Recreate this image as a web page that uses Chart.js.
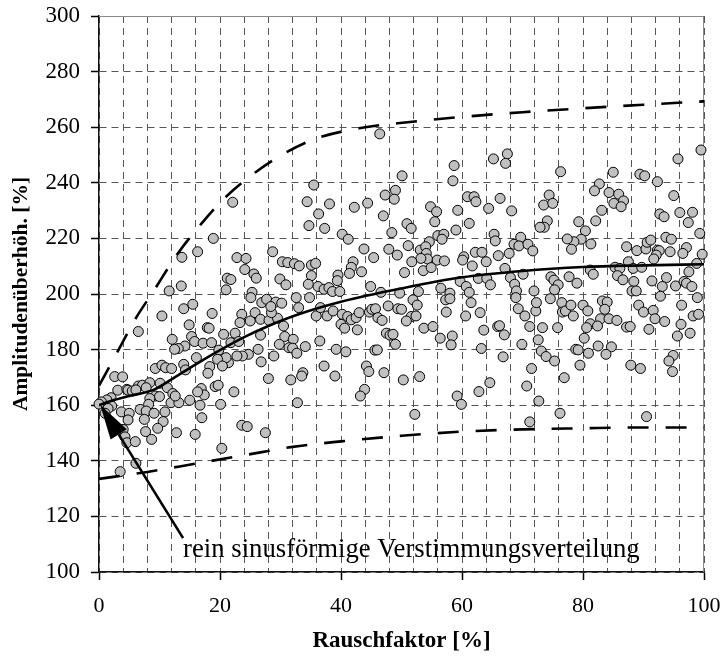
<!DOCTYPE html>
<html>
<head>
<meta charset="utf-8">
<script src="https://cdn.jsdelivr.net/npm/chart.js@4.4.0/dist/chart.umd.min.js"></script>
<style>
  html, body { margin: 0; padding: 0; background: #fff; }
</style>
</head>
<body>
<canvas id="chart" width="723" height="658"></canvas>
<script>
// --- data ---
const xTicks = [0, 20, 40, 60, 80, 100];
const yTicks = [100, 120, 140, 160, 180, 200, 220, 240, 260, 280, 300];

// mean curve
const meanX = [0, 2, 5, 9, 12, 16, 20, 24, 28, 33, 40, 50, 60, 70, 80, 90, 100];
const meanY = [160, 161.5, 163.3, 165.5, 169.3, 174.7, 179.8, 184.5, 188.5, 192.7, 197.2, 202, 206, 208.3, 209.7, 210.3, 210.7];

// upper / lower bound curves (dashed)
const upperX = [0, 3, 6, 9, 13, 17, 21, 26, 31, 36, 43, 51, 60, 70, 80, 90, 100];
const upperY = [167, 179, 191, 201, 214.5, 225.5, 235, 244, 251, 256, 259.6, 261.8, 263.7, 265.4, 266.8, 268.1, 269.3];
const lowerX = [0, 8, 16, 24, 32, 40, 50, 60, 70, 80, 90, 100];
const lowerY = [133.5, 136, 139, 142, 145, 147, 149, 150.5, 151.3, 151.7, 152, 152];

// simulated samples [Rauschfaktor, Amplitudenüberhöhung]
const samples = [
  [22.1,233.0],[18.9,220.0],[16.3,215.2],[13.7,213.2],[22.8,213.1],[24.3,212.8],[28.7,215.2],[24.1,208.8],
  [25.6,207.2],[26.0,205.7],[21.2,205.7],[21.8,205.2],[21.0,201.5],[29.9,205.4],[30.9,203.3],[30.3,211.6],
  [31.2,211.3],[32.3,210.9],[33.1,210.1],[13.6,202.9],[11.6,201.1],[25.3,200.6],
  [46.4,257.6],[58.7,246.2],[58.5,240.7],[50.1,242.5],[65.2,248.6],[35.5,239.2],[34.4,233.2],[38.1,232.4],
  [36.3,228.8],[34.7,224.6],[37.3,223.6],[42.2,231.2],[44.4,232.7],[47.3,235.6],[49.0,237.3],[48.8,234.1],
  [47.0,228.1],[50.9,225.3],[51.6,223.6],[48.4,222.1],[40.2,221.5],[41.2,219.7],[54.8,231.4],[55.8,229.6],
  [55.5,226.0],[59.3,230.1],[60.9,235.0],[62.0,235.0],[62.3,233.2],[61.2,225.4],[64.4,230.8],[66.3,234.4],
  [59.0,223.0],[56.0,221.0],[57.0,221.5],[56.7,219.7],[65.3,221.5],[65.5,219.1],[54.6,218.8],[51.1,217.4],
  [43.8,216.2],[45.4,213.1],[47.9,216.1],[49.3,214.0],[53.1,215.8],[54.0,217.0],[54.1,214.6],[54.3,212.6],
  [53.2,212.8],[51.7,211.6],[55.9,212.2],[57.1,211.9],[53.6,208.4],[54.9,209.5],[50.5,207.7],[60.3,213.4],
  [60.1,212.2],[62.2,215.0],[63.3,215.0],[64.0,211.6],[66.0,213.8],[61.7,210.1],[62.7,205.6],[64.1,205.6],
  [64.7,203.3],[59.7,204.5],[60.7,202.7],[61.2,200.6],[56.5,202.1],[58.0,200.3],[42.0,211.6],[41.7,209.6],
  [41.4,207.4],[43.4,208.0],[39.5,206.8],[39.4,204.8],[35.1,210.4],[35.8,211.0],[35.1,206.6],[34.6,203.5],
  [36.2,202.7],[37.2,201.7],[38.0,202.3],[38.6,200.9],[39.8,200.9],[44.9,202.7],[46.6,200.6],[49.7,200.3],
  [52.8,200.9],
  [67.5,250.4],[67.2,247.0],[76.3,244.0],[85.0,243.8],[89.4,243.1],[90.2,242.5],[92.3,240.4],[95.7,248.6],
  [99.5,251.8],[82.7,239.6],[81.9,237.1],[84.3,236.5],[85.9,235.9],[86.7,233.5],[85.1,232.6],[86.3,231.4],
  [74.4,235.6],[73.5,232.0],[75.0,232.6],[68.2,229.9],[83.1,230.1],[82.1,226.3],[79.3,226.0],[74.1,226.3],
  [73.6,224.0],[72.9,224.0],[95.0,235.4],[92.7,228.8],[93.4,227.8],[96.0,229.3],[98.1,229.4],[97.4,225.7],
  [99.3,221.8],[80.4,222.7],[79.7,219.7],[78.5,218.8],[77.4,219.8],[78.1,216.1],[81.3,218.0],[69.7,220.4],
  [68.6,217.9],[69.4,217.3],[70.9,217.9],[71.7,215.5],[67.8,214.6],[67.1,209.2],[70.1,207.1],[68.0,205.9],
  [68.7,203.5],[69.0,201.1],[74.7,206.2],[75.2,205.0],[75.9,203.3],[75.3,201.5],[71.9,201.1],[77.7,206.2],
  [79.0,203.9],[81.2,208.6],[81.7,207.1],[87.2,217.0],[88.9,215.6],[90.4,216.2],[90.6,218.6],[91.2,219.4],
  [93.7,220.4],[94.6,219.7],[92.3,215.8],[92.6,215.6],[92.1,214.0],[91.7,212.6],[94.4,215.2],[97.1,216.7],
  [96.5,214.6],[99.7,214.3],[98.8,211.0],[97.5,208.0],[87.5,211.6],[85.3,209.6],[86.1,209.2],[88.3,209.2],
  [89.7,209.6],[85.7,206.6],[86.6,205.1],[88.4,204.5],[88.1,201.1],[88.8,201.1],[91.4,204.7],[93.8,205.9],
  [93.1,202.7],[95.3,202.9],[96.7,204.5],[97.1,203.9],[98.0,202.7],
  [14.0,194.7],[15.5,196.3],[10.4,192.1],[18.7,193.0],[6.5,186.5],[14.9,188.9],[17.9,187.9],[18.2,187.7],
  [20.6,185.5],[22.5,185.9],[12.1,183.7],[15.3,184.7],[15.8,182.9],[14.2,181.3],[13.1,180.4],[12.5,180.1],
  [17.2,182.3],[18.6,182.5],[21.8,182.5],[23.1,182.9],[23.6,192.7],[23.3,189.7],[25.0,190.3],[25.8,193.3],
  [26.7,190.9],[28.1,190.5],[29.5,191.3],[28.5,193.3],[26.9,196.9],[27.7,198.1],[29.2,197.1],[30.2,196.7],
  [28.4,195.5],[25.1,198.7],[32.6,198.7],[33.0,195.1],[30.5,188.5],[26.7,185.2],[30.7,184.7],[32.1,183.7],
  [29.8,181.9],[31.4,180.7],[32.0,180.5],[32.7,178.7],[26.3,180.1],[24.7,178.3],[23.7,177.7],[22.8,177.7],
  [21.4,175.3],[21.0,177.1],[19.8,179.8],[19.6,176.5],[20.4,174.1],[18.3,173.9],[16.1,177.1],[26.8,175.6],
  [28.9,177.7],[9.3,173.2],[10.4,174.4],[11.0,173.5],[12.0,173.2],[14.0,174.7],[14.3,172.7],[18.0,171.5],
  [2.6,170.3],[3.9,170.2],[6.5,166.9],[7.2,167.2],[8.4,168.1],[10.1,167.9],[3.1,165.4],[4.6,165.7],
  [4.8,165.4],[5.5,165.1],[6.1,165.5],[7.8,166.3],[11.3,166.3],[12.2,164.2],[9.3,163.3],[10.0,163.1],
  [8.4,162.4],[8.2,160.3],[11.9,160.9],[13.2,160.9],[12.6,163.3],[15.0,161.8],[16.9,166.0],[17.4,163.7],
  [16.3,164.8],[19.2,166.7],[19.7,167.2],[22.3,164.8],[16.7,160.0],[20.1,160.3],[17.0,155.5],[28.0,169.6],
  [31.7,169.1],[32.8,160.9],[2.0,162.7],[1.3,161.9],[0.4,161.2],[0.0,160.4],[2.1,159.7],[1.5,158.8],
  [1.0,157.1],[3.7,157.6],[5.0,157.1],[4.8,154.7],[6.8,158.5],[7.8,157.9],[9.1,157.1],[7.5,154.9],
  [10.9,157.6],[10.6,154.1],[9.7,151.7],[7.7,150.5],[8.7,147.7],[12.8,150.1],[15.9,149.5],[4.0,151.3],
  [4.3,148.6],[4.6,146.5],[6.0,146.9],[6.1,139.1],[3.5,136.1],[20.3,144.5],[23.6,152.8],[24.5,152.3],
  [27.5,150.1],
  [34.8,198.7],[35.9,192.1],[36.6,195.1],[37.7,192.1],[38.7,193.9],[40.2,192.7],[41.1,191.9],[41.7,190.7],
  [42.5,191.5],[43.0,193.3],[40.0,189.1],[40.6,187.7],[42.7,187.1],[44.7,193.5],[45.1,194.5],[45.7,194.7],
  [46.1,191.5],[46.8,190.5],[47.8,195.7],[49.4,194.7],[50.0,194.5],[51.9,197.9],[52.6,196.0],[51.6,191.9],
  [50.8,190.3],[52.4,192.1],[47.5,185.9],[48.1,185.2],[48.6,185.5],[49.0,181.9],[45.6,179.8],[46.0,179.9],
  [36.5,183.1],[34.1,181.1],[39.2,180.1],[40.8,179.2],[37.2,174.1],[39.0,170.5],[33.7,171.7],[33.5,170.5],
  [44.2,174.1],[44.6,172.1],[47.1,171.7],[43.9,165.7],[43.2,163.3],[50.3,169.1],[53.0,170.3],[52.2,156.7],
  [57.3,197.9],[58.0,198.3],[57.4,193.5],[61.5,196.9],[60.6,192.1],[63.0,193.3],[53.7,187.7],[55.2,188.3],
  [56.4,184.1],[58.4,184.9],[58.2,181.7],[63.6,187.0],[63.2,180.4],[65.9,188.3],[66.2,188.6],[59.2,163.3],
  [59.9,160.3],[62.8,164.9],[64.6,168.1],
  [68.9,198.7],[69.3,194.7],[70.4,192.1],[72.2,193.9],[72.3,196.9],[74.6,198.3],[76.5,196.9],[76.6,193.5],
  [77.1,193.9],[78.0,196.0],[78.4,192.1],[80.0,196.0],[80.8,193.9],[83.2,197.5],[84.0,197.1],[83.6,194.5],
  [82.9,191.1],[84.3,191.1],[85.6,190.5],[81.2,189.3],[82.4,188.5],[80.6,187.9],[80.2,184.1],[71.2,188.3],
  [73.3,187.9],[75.8,187.9],[67.0,185.3],[72.6,183.5],[69.9,181.9],[66.8,177.4],[73.1,179.5],[73.9,177.5],
  [75.3,175.9],[78.8,180.1],[79.2,179.9],[80.9,178.7],[82.5,181.3],[84.7,181.0],[83.8,178.3],[79.5,174.4],
  [71.5,173.2],[76.9,169.9],[70.7,166.9],[72.7,161.5],[76.2,157.1],[71.2,154.0],[89.2,196.0],[90.0,193.5],
  [91.6,194.1],[91.9,191.1],[93.5,190.1],[87.2,188.1],[87.8,188.3],[90.9,187.3],[96.3,196.0],[98.2,192.1],
  [99.1,192.7],[98.9,198.7],[96.2,189.1],[95.6,184.9],[97.7,185.9],[87.9,174.4],[89.5,173.2],[94.9,177.9],
  [94.2,175.9],[94.8,172.1],[90.5,155.9],[92.8,199.2]
];

// annotation: arrow tip, arrow tail, text anchor (data units)
const noteTip = [0.2, 160.2];
const noteTail = [13.9, 112.2];
const noteAt = [13.9, 105.4];
const noteText = 'rein sinusförmige Verstimmungsverteilung';

const toPts = (xs, ys) => xs.map((v, i) => ({ x: v, y: ys[i] }));

// thin grey frame on top and right, like the original plot box
const plotFrame = {
  id: 'plotFrame',
  beforeDatasetsDraw(chart) {
    const { ctx, chartArea: a } = chart;
    ctx.save();
    ctx.strokeStyle = '#8a8a8a';
    ctx.lineWidth = 1;
    ctx.beginPath();
    ctx.moveTo(a.left, a.top + 0.5);
    ctx.lineTo(a.right - 0.5, a.top + 0.5);
    ctx.lineTo(a.right - 0.5, a.bottom);
    ctx.stroke();
    ctx.restore();
  }
};

// arrow + caption
const arrowNote = {
  id: 'arrowNote',
  afterDatasetsDraw(chart) {
    const { ctx, scales: { x, y } } = chart;
    const tx = x.getPixelForValue(noteTip[0]), ty = y.getPixelForValue(noteTip[1]);
    const ex = x.getPixelForValue(noteTail[0]), ey = y.getPixelForValue(noteTail[1]);
    const ang = Math.atan2(ey - ty, ex - tx);
    const headLen = 35, headW = 9.5;
    const bx = tx + Math.cos(ang) * headLen, by = ty + Math.sin(ang) * headLen;

    ctx.save();
    ctx.strokeStyle = '#000';
    ctx.fillStyle = '#000';
    ctx.lineWidth = 2.6;
    ctx.beginPath();
    ctx.moveTo(bx, by);
    ctx.lineTo(ex, ey);
    ctx.stroke();

    ctx.beginPath();
    ctx.moveTo(tx, ty);
    ctx.lineTo(bx + Math.sin(ang) * headW, by - Math.cos(ang) * headW);
    ctx.lineTo(bx - Math.sin(ang) * headW, by + Math.cos(ang) * headW);
    ctx.closePath();
    ctx.fill();

    ctx.font = '26.7px "Liberation Serif", "Times New Roman", serif';
    ctx.textBaseline = 'alphabetic';
    ctx.textAlign = 'left';
    ctx.fillText(noteText, x.getPixelForValue(noteAt[0]), y.getPixelForValue(noteAt[1]));
    ctx.restore();
  }
};

Chart.defaults.font.family = '"Liberation Serif", "Times New Roman", serif';
Chart.defaults.color = '#000';

const gridColor = '#555';

new Chart(document.getElementById('chart'), {
  type: 'scatter',
  data: {
    datasets: [
      {
        type: 'line',
        data: toPts(meanX, meanY),
        borderColor: '#000',
        borderWidth: 2.6,
        pointRadius: 0,
        cubicInterpolationMode: 'monotone',
        fill: false,
        order: 0
      },
      {
        type: 'line',
        data: toPts(upperX, upperY),
        borderColor: '#000',
        borderWidth: 2.6,
        borderDash: [21, 17],
        pointRadius: 0,
        cubicInterpolationMode: 'monotone',
        fill: false,
        order: 1
      },
      {
        type: 'line',
        data: toPts(lowerX, lowerY),
        borderColor: '#000',
        borderWidth: 2.6,
        borderDash: [21, 17],
        pointRadius: 0,
        cubicInterpolationMode: 'monotone',
        fill: false,
        order: 2
      },
      {
        data: samples.map(p => ({ x: p[0], y: p[1] })),
        pointRadius: 5,
        pointHoverRadius: 5,
        backgroundColor: '#c0c0c0',
        borderColor: '#000',
        borderWidth: 1,
        clip: false,
        order: 3
      }
    ]
  },
  options: {
    responsive: false,
    animation: false,
    layout: { padding: { left: 5, right: 19, top: 16, bottom: 0 } },
    plugins: {
      legend: { display: false },
      tooltip: { enabled: false }
    },
    scales: {
      x: {
        type: 'linear',
        min: 0,
        max: 100,
        afterFit: s => { s.height = 86; s.paddingLeft = 0; s.paddingRight = 0; },
        ticks: {
          stepSize: 4,
          autoSkip: false,
          maxRotation: 0,
          padding: 13,
          font: { size: 22 },
          color: '#000',
          callback: v => (xTicks.includes(v) ? v : '')
        },
        grid: {
          color: gridColor,
          lineWidth: 1,
          tickLength: 8,
          tickWidth: 1.5,
          tickColor: c => (c.tick && xTicks.includes(c.tick.value) ? '#000' : 'rgba(0,0,0,0)')
        },
        border: { color: '#111', width: 1.5, dash: [7, 5] },
        title: {
          display: true,
          text: 'Rauschfaktor [%]',
          font: { size: 23, weight: 'bold' },
          color: '#000',
          padding: { top: 10, bottom: 3 }
        }
      },
      y: {
        min: yTicks[0],
        max: yTicks[yTicks.length - 1],
        afterBuildTicks: s => { s.ticks = yTicks.map(v => ({ value: v })); },
        afterFit: s => { s.width = 94; s.paddingTop = 0; s.paddingBottom = 0; },
        ticks: { padding: 11, font: { size: 23 }, color: '#000' },
        grid: { color: gridColor, lineWidth: 1, tickLength: 8, tickWidth: 1.5, tickColor: '#000' },
        border: { color: '#111', width: 1.5, dash: [7, 5] },
        title: {
          display: true,
          text: 'Amplitudenüberhöh. [%]',
          font: { size: 21.5, weight: 'bold' },
          color: '#000',
          padding: { top: 4, bottom: 3 }
        }
      }
    }
  },
  plugins: [plotFrame, arrowNote]
});
</script>
</body>
</html>
